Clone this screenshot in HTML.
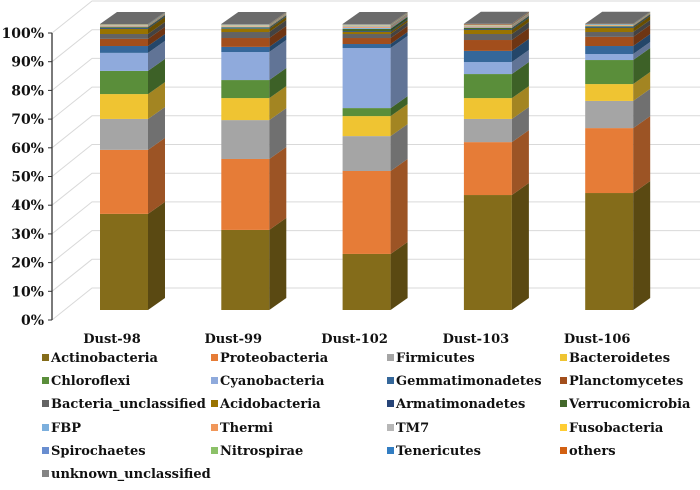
<!DOCTYPE html>
<html><head><meta charset="utf-8"><style>
body{margin:0;background:#fff;}
svg text{font-family:"DejaVu Serif","Liberation Serif",serif;font-weight:bold;fill:#111;}
</style></head><body>
<svg id="chart" width="700" height="485" viewBox="0 0 700 485" xmlns="http://www.w3.org/2000/svg"></svg>
<script>
const categories=["Dust-98","Dust-99","Dust-102","Dust-103","Dust-106"];
const seriesNames=["Actinobacteria","Proteobacteria","Firmicutes","Bacteroidetes","Chloroflexi","Cyanobacteria","Gemmatimonadetes","Planctomycetes","Bacteria_unclassified","Acidobacteria","Armatimonadetes","Verrucomicrobia","FBP","Thermi","TM7","Fusobacteria","Spirochaetes","Nitrospirae","Tenericutes","others","unknown_unclassified"];
const seriesColors=["#846c1a","#e67c37","#a5a5a5","#efc432","#5a8e3a","#8faadc","#35679a","#a24e1c","#636363","#997300","#264478","#43682b","#7cafdd","#f1975a","#b7b7b7","#ffcd33","#698ed0","#8cc168","#327dc2","#d26012","#848484"];
const actino=[33.6,28.0,19.6,40.2,40.9];
const proteo=[22.4,24.8,29.0,18.5,22.7];
const firmic=[10.8,13.6,12.2,8.1,9.5];
const bacter=[8.7,7.7,7.0,7.3,5.9];
const chloro=[8.1,6.3,2.8,8.4,8.4];
const cyano=[6.3,9.8,21.0,4.2,2.1];
const gemma=[2.4,1.8,1.4,3.9,2.8];
const plancto=[2.5,3.1,2.1,3.8,3.2];
const bactUncl=[1.7,2.1,1.4,2.1,1.7];
const acido=[1.8,1.1,0.7,1.4,1.4];
const armat=[0.3,0.2,0.3,0.3,0.3];
const verruc=[0.3,0.3,0.8,0.4,0.3];
const fbp=[0.2,0.2,0.3,0.2,0.1];
const thermi=[0.2,0.2,0.3,0.3,0.2];
const tm7=[0.2,0.2,0.5,0.3,0.1];
const fuso=[0.1,0.1,0.1,0.1,0.1];
const spiro=[0.1,0.1,0.1,0.1,0.1];
const nitro=[0.1,0.1,0.1,0.1,0.1];
const teneric=[0.1,0.1,0.1,0.1,0.1];
const others=[0.1,0.1,0.1,0.2,0.1];
const unknown=[0.0,0.1,0.1,0.1,0.0];
const seriesValues=[actino,proteo,firmic,bacter,chloro,cyano,gemma,plancto,bactUncl,acido,armat,verruc,fbp,thermi,tm7,fuso,spiro,nitro,teneric,others,unknown];
const yTicks=[0,10,20,30,40,50,60,70,80,90,100];

const NS="http://www.w3.org/2000/svg";
const svg=document.getElementById('chart');
function mk(t,a,p){const e=document.createElementNS(NS,t);for(const k in a)e.setAttribute(k,a[k]);(p||svg).appendChild(e);return e;}
function shade(c,f){const n=parseInt(c.slice(1),16);const r=Math.round(((n>>16)&255)*f),g=Math.round(((n>>8)&255)*f),b=Math.round((n&255)*f);return `rgb(${r},${g},${b})`;}
const frontBase=310, frontH=286, barW=48, dx=17, dy=-12;
function yFront(v){return frontBase-v/100*frontH;}
function yAxis(v){return 320-v/100*287;}
function yBack(v){return 288-v/100*287;}
function xBar(i){return 100+i*121.3;}

const grid=mk('g',{});


yTicks.forEach(v=>{
  const l=mk('polyline',{points:`52,${yAxis(v)} 92,${yBack(v)} 700,${yBack(v)}`,fill:'none',stroke:'#d9d9d9','stroke-width':1},grid);
  
  
});
const ax=mk('line',{x1:52,y1:yAxis(100),x2:52,y2:yAxis(0),stroke:'#333','stroke-width':1.3});


yTicks.forEach(v=>{
  mk('line',{x1:48,y1:yAxis(v),x2:52,y2:yAxis(v),stroke:'#333'});
  const t=mk('text',{x:44,y:yAxis(v)+5,'text-anchor':'end','font-size':14});
  t.textContent=v+'%';
  
  
});

categories.forEach((c,i)=>{
  const g=mk('g',{});
  
  
  const x=xBar(i);let cum=0;
  seriesValues.forEach((arr,s)=>{
    const v=arr[i];if(v<=0)return;
    const y0=yFront(cum),y1=yFront(cum+v);cum+=v;
    const r=mk('rect',{x:x,y:y1,width:barW,height:y0-y1,fill:seriesColors[s]},g);
    
    
    const p=mk('polygon',{points:`${x+barW},${y0} ${x+barW+dx},${y0+dy} ${x+barW+dx},${y1+dy} ${x+barW},${y1}`,fill:shade(seriesColors[s],0.68)},g);
    
    
  });
  const yt=yFront(cum);
  const top=mk('polygon',{points:`${x},${yt} ${x+dx},${yt+dy} ${x+barW+dx},${yt+dy} ${x+barW},${yt}`,fill:'#6b6b6b'},g);
  
  
  const t=mk('text',{x:x+12,y:343,'text-anchor':'middle','font-size':13});
  t.textContent=c;
  
  
});

const leg=mk('g',{});


const colX=[42,211,387,560], rowY=[362,385,408,432,455,478];
seriesNames.forEach((n,s)=>{
  const cx=colX[s%4], cy=rowY[Math.floor(s/4)];
  const e=mk('g',{},leg);
  
  
  mk('rect',{x:cx,y:cy-8,width:7,height:7,fill:seriesColors[s]},e);
  const t=mk('text',{x:cx+9,y:cy,'font-size':13},e);
  t.textContent=n;
});
</script>
</body></html>
